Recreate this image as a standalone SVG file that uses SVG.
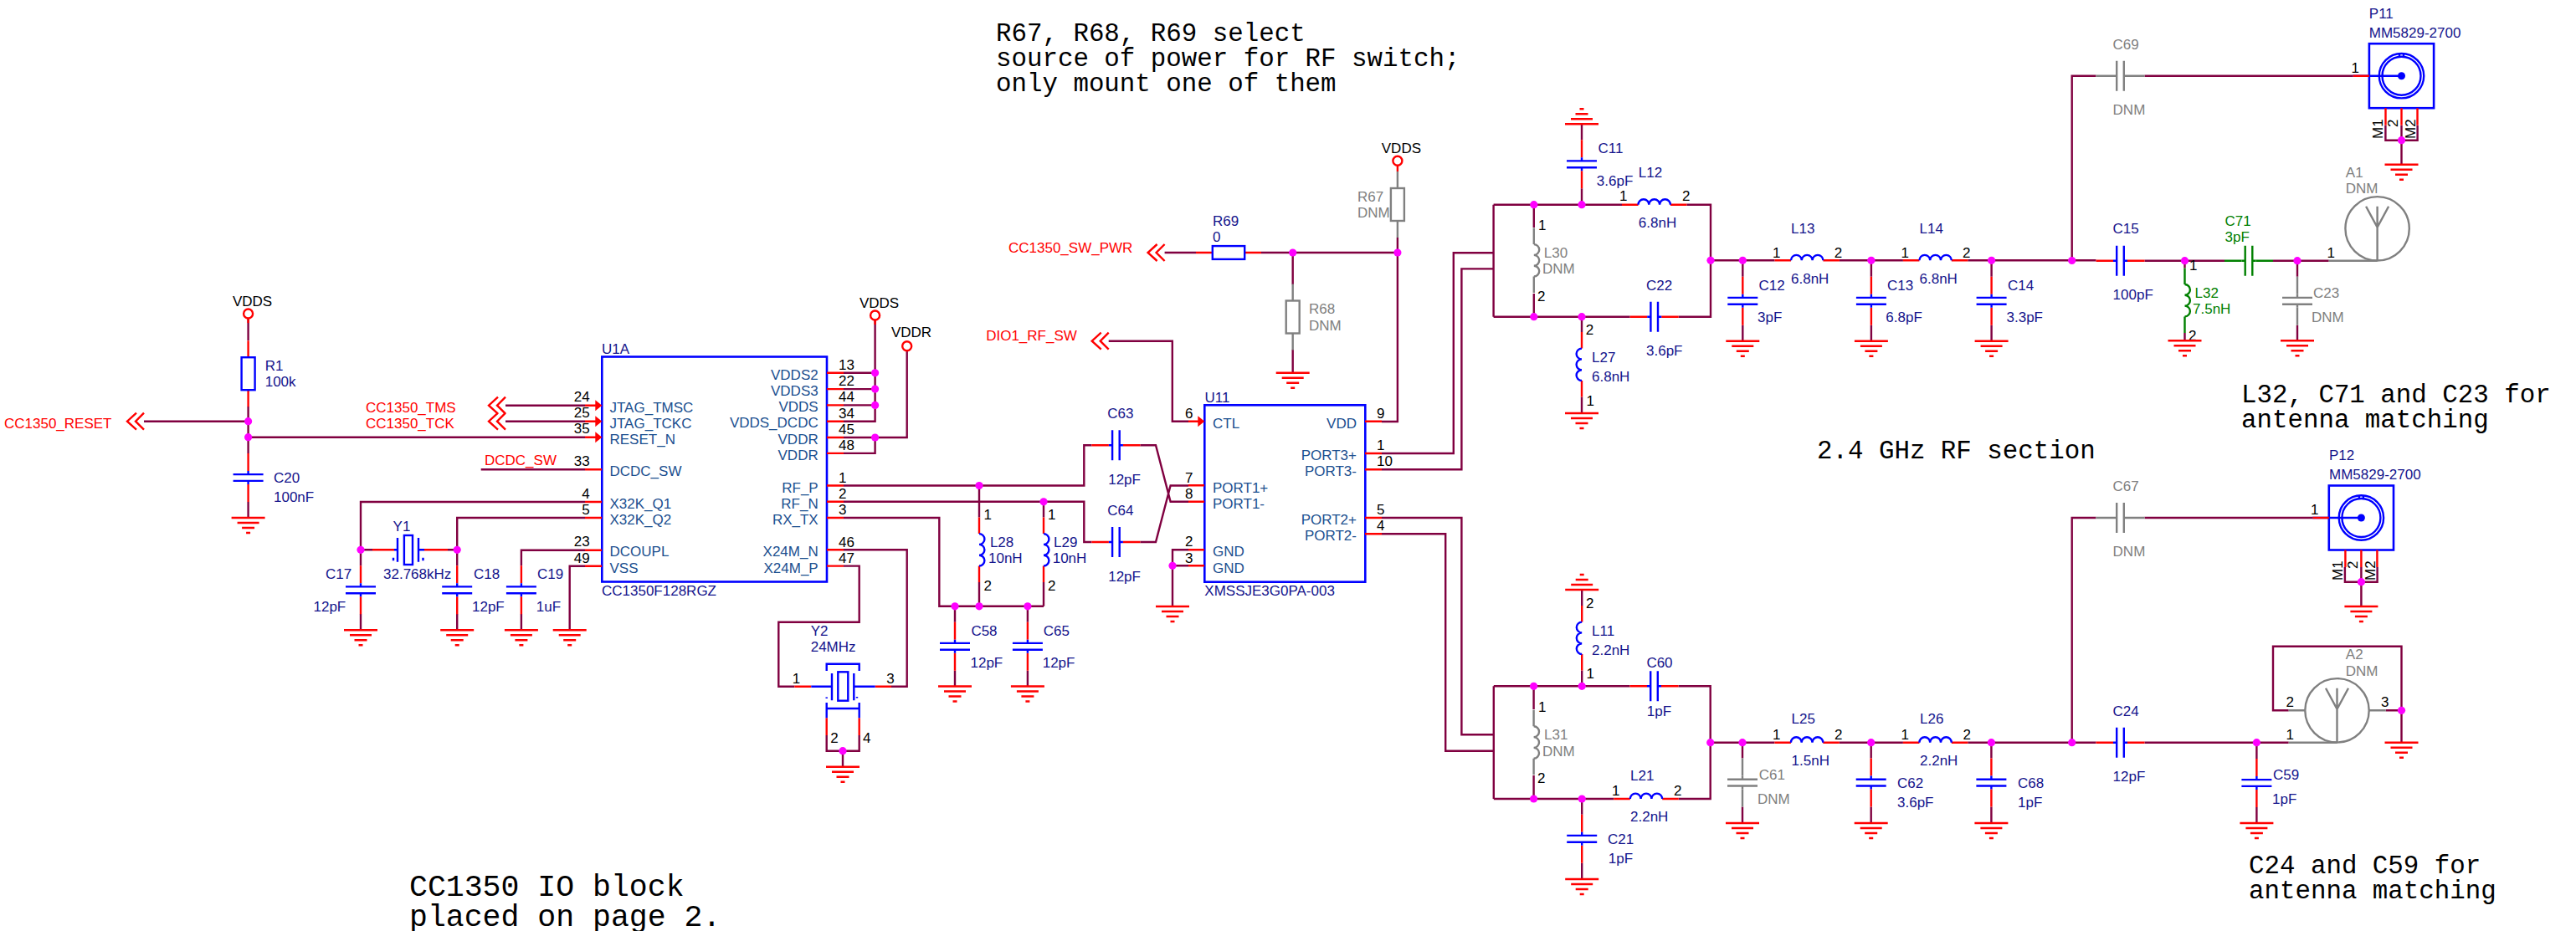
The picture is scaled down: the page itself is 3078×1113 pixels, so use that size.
<svg xmlns="http://www.w3.org/2000/svg" width="3078" height="1113" viewBox="0 0 3078 1113">
<style>
text{font-family:"Liberation Sans",Arial,sans-serif;font-size:17px;fill:#14148c}
.n{fill:#000}.pn{fill:#1b4f8f}.r{fill:#f00}.g{fill:#808080}.gr{fill:#008000}
.e{text-anchor:end}.c{text-anchor:middle}
.m{font-family:"Liberation Mono","Courier New",monospace;fill:#000;font-size:30.8px}
.m2{font-size:36.5px}
path,rect,circle,ellipse{fill:none}
.w{stroke:#800040;stroke-width:2.4}
.p{stroke:var(--p,#f00);stroke-width:2.4}
.b{stroke:var(--b,#00f);stroke-width:2.4}
.red{stroke:#f00;stroke-width:2.4}
.dnm{--p:#808080;--b:#808080}
.grn{--p:#008000;--b:#008000}
.box{stroke:#00f;stroke-width:2.6;fill:#fff}
.j{fill:#f0f;stroke:none}
.ar{fill:#f00;stroke:none}
.dot{fill:#00f;stroke:none}
</style>
<defs>
<g id="gnd"><path class="red" d="M-20 0H20M-13 6H13M-7.5 12H7.5M-2.5 18H2.5"/></g>
<g id="chev"><path class="red" stroke-width="2.4" d="M-9 -10L-20 0L-9 10M0 -10L-10 0L0 10"/></g>
<polygon id="arr" class="ar" points="-8,-6.5 0,0 -8,6.5"/>
<circle id="jn" class="j" r="4.6"/>
<g id="capV"><path class="p" d="M0 -29V-8M0 8V29"/><path class="b" d="M-18 -3.9H18M-18 3.9H18M0 -8V-3.9M0 3.9V8"/></g>
<g id="capH"><path class="p" d="M-29 0H-8.5M8.5 0H29"/><path class="b" d="M-4.3 -18V18M4.3 -18V18M-8.5 0H-4.3M4.3 0H8.5"/></g>
<g id="indH"><path class="p" d="M-38.7 0H-19.2M19.2 0H38.7"/><path class="b" d="M-19.2 0a6.4 6.4 0 0 1 12.8 0a6.4 6.4 0 0 1 12.8 0a6.4 6.4 0 0 1 12.8 0"/></g>
<g id="indVR"><path class="p" d="M0 -38.7V-19.2M0 19.2V38.7"/><path class="b" d="M0 -19.2a6.4 6.4 0 0 1 0 12.8a6.4 6.4 0 0 1 0 12.8a6.4 6.4 0 0 1 0 12.8"/></g>
<g id="indVL"><path class="p" d="M0 -38.7V-19.2M0 19.2V38.7"/><path class="b" d="M0 -19.2a6.4 6.4 0 0 0 0 12.8a6.4 6.4 0 0 0 0 12.8a6.4 6.4 0 0 0 0 12.8"/></g>
<g id="resV"><path class="p" d="M0 -39.5V-19.5M0 19.5V39.5"/><rect class="b" x="-8" y="-19.5" width="16" height="39"/></g>
<g id="resH"><path class="p" d="M-39 0H-19.2M19.2 0H39"/><rect class="b" x="-19.2" y="-7.9" width="38.4" height="15.8"/></g>
<g id="sma"><rect class="box" x="-38.6" y="-38.5" width="77.2" height="77"/><circle class="b" r="26.7"/><circle class="b" r="23"/><path class="b" d="M-58 0H0M-2.5 -26.7V-23M2.5 -26.7V-23"/><circle class="dot" r="4.5"/><path class="p" d="M-58 0H-38.6M-19 38.5V59M0 38.5V59M19 38.5V59"/></g>
<g id="ant"><circle class="b" r="38.2"/><path class="b" d="M0 38.2V-26.5M-13.5 -26.5L0 -1.5L13.5 -26.5"/></g>
</defs>
<rect width="3078" height="1113" fill="#fff"/>
<g id="connectors">
<path class="w" d="M296.6 381V407M296.6 486V542M296.6 600V619M172 503.7H296.6M296.6 522.7H699M604 484.7H699M604 503.7H699M574.7 561.3H699M699 600H431V676.3M431 734V753.3M431 657.3H445M699 619H546.2V676.3M546.2 734V753.3M535 657.3H546.2M699 657.7H622.9V676.3M622.9 734V753.3M699 676.7H680.7V753.3"/>
<path class="w" d="M1008 445.8H1045.6M1008 465.1H1045.6M1008 484.4H1045.6M1045.6 383V503.7H1008M1008 523H1083.7V419.3M1008 541.9H1045.6V523M1008 580.5H1295.3V532.2H1304.4M1362.4 532.2H1381L1398.6 599.8H1420M1008 599.8H1295.3V648H1304.4M1362.4 648H1381L1398.6 580.5H1420M1170 580.5V618.6M1170 696V724.8M1247 599.8V618.6M1247 696V724.8M1008 619H1122.3V724.8H1247M1141 724.8V743.8M1141 801.8V820.5M1227.9 724.8V743.8M1227.9 801.8V820.5M1008 657.3H1083.7V820.7H1065M1008 676.6H1026.7V743.7H930.3V820.7H949.3M987.7 879V897.7H1026.7V879M1007 897.7V916.7"/>
<path class="w" d="M1420 657.3H1401V725M1420 676.3H1401M1324.7 407.7H1400.8V503.7H1420M1391.6 302H1429M1507 302H1669.9M1544.7 302V340M1544.7 418V445.7M1669.9 284V504H1651"/>
<path class="w" d="M1651 542H1736.8V302.3H1784.6M1651 561.3H1746.4V321.4H1784.6M1784.6 244.7V378.7M1784.6 244.7H1938M2015.4 244.7H2044V378.7H2005.7M1947.7 378.7H1784.6M1832.8 244.7V272M1832.8 351V378.7M1890 148.3V167.3M1890 225.3V244.7M1890 378.7V397M1890 474.5V494M2044 311.3H2120.5M2197.9 311.3H2273.9M2351.3 311.3H2504.5M2562.5 311.7H2658M2716 311.7H2782.7M2082.3 311.3V330.8M2082.3 388.8V407.7M2235.9 311.3V330.8M2235.9 388.8V407.7M2379.6 311.3V330.8M2379.6 388.8V407.7M2745 311.7V330.8M2745 388.8V407.3M2610.5 311.7V320.5M2610.5 398V407.3M2475.7 311.3V90.7H2504.5M2562.5 90.7H2811.6M2850.4 150V167.7H2888.6V150M2869.5 150V196.7"/>
<path class="w" d="M1651 619H1746.4V878.3H1784.8M1651 638.3H1727.2V897.7H1784.8M1784.8 820.3V955M1784.8 820.3H1947.5M2005.5 820.3H2043.7V955H2005.7M1928.3 955H1784.8M1832.6 820.3V848M1832.6 927V955M1890.2 705V724M1890.2 801.5V820.3M1890.2 955V973.8M1890.2 1031.8V1051M2043.7 887.7H2120.4M2197.8 887.7H2273.9M2351.3 887.7H2504.5M2562.5 887.7H2734.7M2082 887.7V906.6M2082 964.6V984M2235.7 887.7V906.6M2235.7 964.6V984M2379.4 887.7V906.6M2379.4 964.6V984M2696.4 887.7V907M2696.4 965V984M2475.7 887.7V619H2504.5M2562.5 619H2763.6M2801.9 678V695.7H2840.6V678M2821.4 678V725M2734.7 849.3H2716V772.7H2869.5V887.7M2850.8 849.3H2869.5"/>
</g>
<g id="U1A">
<rect class="box" x="719.3" y="426.5" width="268.7" height="269"/>
<path class="red" d="M699 484.7H712M699 503.7H712M699 522.7H712M699 561.3H719M699 600H719M699 619H719M699 657.7H719M699 676.7H719M988 445.8H1008M988 465.1H1008M988 484.4H1008M988 503.7H1008M988 523H1008M988 541.9H1008M988 580.5H1008M988 599.8H1008M988 619H1008M988 657.3H1008M988 676.6H1008"/>
<use href="#arr" x="719.3" y="484.7"/><use href="#arr" x="719.3" y="503.7"/><use href="#arr" x="719.3" y="522.7"/>
<text x="719" y="423">U1A</text><text x="719" y="711.7">CC1350F128RGZ</text>
<text class="pn" x="728.5" y="493">JTAG_TMSC</text><text class="pn" x="728.5" y="512">JTAG_TCKC</text><text class="pn" x="728.5" y="531">RESET_N</text><text class="pn" x="728.5" y="568.8">DCDC_SW</text><text class="pn" x="728.5" y="608.4">X32K_Q1</text><text class="pn" x="728.5" y="627">X32K_Q2</text><text class="pn" x="728.5" y="665">DCOUPL</text><text class="pn" x="728.5" y="684.8">VSS</text>
<text class="pn e" x="977.7" y="454">VDDS2</text><text class="pn e" x="977.7" y="473">VDDS3</text><text class="pn e" x="977.7" y="492">VDDS</text><text class="pn e" x="977.7" y="511">VDDS_DCDC</text><text class="pn e" x="977.7" y="531">VDDR</text><text class="pn e" x="977.7" y="550">VDDR</text><text class="pn e" x="977.7" y="588.7">RF_P</text><text class="pn e" x="977.7" y="607.7">RF_N</text><text class="pn e" x="977.7" y="627.3">RX_TX</text><text class="pn e" x="977.7" y="664.5">X24M_N</text><text class="pn e" x="977.7" y="684.8">X24M_P</text>
<text class="n e" x="704.6" y="480">24</text><text class="n e" x="704.6" y="499">25</text><text class="n e" x="704.6" y="518">35</text><text class="n e" x="704.6" y="557.3">33</text><text class="n e" x="704.6" y="595.7">4</text><text class="n e" x="704.6" y="615">5</text><text class="n e" x="704.6" y="653.3">23</text><text class="n e" x="704.6" y="673.3">49</text>
<text class="n" x="1002" y="442">13</text><text class="n" x="1002" y="461">22</text><text class="n" x="1002" y="480">44</text><text class="n" x="1002" y="500">34</text><text class="n" x="1002" y="519">45</text><text class="n" x="1002" y="538">48</text><text class="n" x="1002" y="577.4">1</text><text class="n" x="1002" y="595.6">2</text><text class="n" x="1002" y="615">3</text><text class="n" x="1002" y="653.8">46</text><text class="n" x="1002" y="673">47</text>
</g>
<g id="U11">
<rect class="box" x="1439.3" y="484.3" width="192" height="211.4"/>
<path class="red" d="M1420 503.7H1432M1420 580.3H1439M1420 599.7H1439M1420 657.3H1439M1420 676.3H1439M1631 503.7H1651M1631 542H1651M1631 561.3H1651M1631 619H1651M1631 638.3H1651"/>
<use href="#arr" x="1439.3" y="503.7"/>
<text x="1439.5" y="480.7">U11</text><text x="1439.3" y="712.3">XMSSJE3G0PA-003</text>
<text class="pn" x="1449" y="512">CTL</text><text class="pn" x="1449" y="588.7">PORT1+</text><text class="pn" x="1449" y="607.7">PORT1-</text><text class="pn" x="1449" y="665">GND</text><text class="pn" x="1449" y="685">GND</text>
<text class="pn e" x="1621" y="512">VDD</text><text class="pn e" x="1621" y="550">PORT3+</text><text class="pn e" x="1621" y="569">PORT3-</text><text class="pn e" x="1621" y="627">PORT2+</text><text class="pn e" x="1621" y="645.7">PORT2-</text>
<text class="n" x="1416" y="500">6</text><text class="n" x="1416" y="576.7">7</text><text class="n" x="1416" y="596">8</text><text class="n" x="1416" y="653">2</text><text class="n" x="1416" y="672.7">3</text>
<text class="n" x="1645" y="500">9</text><text class="n" x="1645" y="538">1</text><text class="n" x="1645" y="556.7">10</text><text class="n" x="1645" y="615">5</text><text class="n" x="1645" y="634">4</text>
</g>
<g id="VDDS1"><circle class="red" cx="296.6" cy="375" r="5.5"/><path class="red" d="M296.6 380.5V386"/><text class="n c" x="301.6" y="366">VDDS</text></g>
<g id="VDDS2"><circle class="red" cx="1045.6" cy="377" r="5.5"/><path class="red" d="M1045.6 382.5V388"/><text class="n c" x="1050.6" y="368">VDDS</text></g>
<g id="VDDR"><circle class="red" cx="1083.7" cy="413.8" r="5.5"/><text class="n c" x="1089" y="403.4">VDDR</text></g>
<g id="VDDS3"><circle class="red" cx="1669.9" cy="192.3" r="5.5"/><path class="red" d="M1669.9 197.8V205"/><text class="n c" x="1674.4" y="182.7">VDDS</text></g>
<g id="CC1350_RESET"><use href="#chev" x="172" y="503.7"/><text class="r" x="5" y="512">CC1350_RESET</text></g>
<g id="CC1350_TMS"><use href="#chev" x="604" y="484.7"/><text class="r" x="437" y="493">CC1350_TMS</text></g>
<g id="CC1350_TCK"><use href="#chev" x="604" y="503.7"/><text class="r" x="437" y="512">CC1350_TCK</text></g>
<g id="DCDC_SW"><text class="r" x="579" y="556">DCDC_SW</text></g>
<g id="CC1350_SW_PWR"><use href="#chev" x="1391.6" y="302"/><text class="r" x="1205" y="301.7">CC1350_SW_PWR</text></g>
<g id="DIO1_RF_SW"><use href="#chev" x="1324.7" y="407.7"/><text class="r e" x="1286.8" y="406.7">DIO1_RF_SW</text></g>
<g id="R1"><use href="#resV" x="296.6" y="446.7"/><text x="316.7" y="443">R1</text><text x="316.7" y="462">100k</text></g>
<g id="R69"><use href="#resH" x="1468" y="302"/><text x="1449" y="270">R69</text><text x="1449" y="289">0</text></g>
<g id="R67" class="dnm"><use href="#resV" x="1669.9" y="244.5"/><text class="g" x="1622" y="241">R67</text><text class="g" x="1622" y="260">DNM</text></g>
<g id="R68" class="dnm"><use href="#resV" x="1544.7" y="379"/><text class="g" x="1564" y="375.3">R68</text><text class="g" x="1564" y="395">DNM</text></g>
<g id="C20"><use href="#capV" x="296.6" y="571"/><text x="327" y="577">C20</text><text x="327" y="600">100nF</text></g>
<g id="C17"><use href="#capV" x="431" y="705.3"/><text x="389" y="691.7">C17</text><text x="374.5" y="731">12pF</text></g>
<g id="C18"><use href="#capV" x="546.2" y="705.3"/><text x="566" y="691.7">C18</text><text x="564" y="731">12pF</text></g>
<g id="C19"><use href="#capV" x="622.9" y="705.3"/><text x="642" y="691.7">C19</text><text x="640.8" y="731">1uF</text></g>
<g id="Y1">
<path class="red" d="M445 657.3H471M507 657.3H535"/>
<path class="b" d="M471 657.3H475M500 657.3H507M475 643V671.7M500 643V671.7"/>
<rect class="b" x="482.9" y="640" width="10.1" height="35"/>
<circle class="dot" cx="470" cy="799" r="0"/><circle class="dot" cx="470" cy="799" r="0"/>
<rect class="dot" x="468.5" y="798" width="0" height="0"/>
<path class="b" d="M469 798h0"/>
<path class="b" d="M470 668v1M505.5 668v1" stroke-linecap="square"/>
<text x="469.6" y="635">Y1</text><text x="458" y="691.7">32.768kHz</text>
</g>
<g id="Y2">
<path class="red" d="M949.3 820.7H969.3M1045.7 820.7H1065M987.7 858.3V879M1026.7 858.3V879"/>
<path class="b" d="M969.3 820.7H994M1020.3 820.7H1045.7M994 805V837.3M1020.3 805V837.3M987.7 802V793.7H1026.7V802M987.7 840V858.3M1026.7 840V858.3M987.7 847H1026.7"/>
<rect class="b" x="1001.3" y="803.3" width="12" height="34.4"/>
<path class="b" d="M987.7 833.5v1.5M1024 833v1.5"/>
<text x="968.7" y="760">Y2</text><text x="968.7" y="779">24MHz</text>
<text class="n" x="946.7" y="817.3">1</text><text class="n" x="1059.3" y="817.3">3</text><text class="n" x="992.3" y="887.7">2</text><text class="n" x="1031" y="887.7">4</text>
</g>
<g id="L28"><use href="#indVR" x="1170" y="657.3"/><text class="n" x="1175.5" y="621">1</text><text class="n" x="1175.5" y="705.8">2</text><text x="1182.9" y="654">L28</text><text x="1181" y="673">10nH</text></g>
<g id="L29"><use href="#indVR" x="1247" y="657.3"/><text class="n" x="1252" y="621">1</text><text class="n" x="1252" y="705.8">2</text><text x="1259" y="654">L29</text><text x="1257.7" y="673">10nH</text></g>
<g id="C58"><use href="#capV" x="1141" y="772.8"/><text x="1160.4" y="760">C58</text><text x="1159.5" y="798">12pF</text></g>
<g id="C65"><use href="#capV" x="1227.9" y="772.8"/><text x="1246.7" y="760">C65</text><text x="1245.7" y="798">12pF</text></g>
<g id="C63"><use href="#capH" x="1333.4" y="532.2"/><text x="1323.3" y="500">C63</text><text x="1324.2" y="579">12pF</text></g>
<g id="C64"><use href="#capH" x="1333.4" y="648"/><text x="1323.3" y="616">C64</text><text x="1324.2" y="694.5">12pF</text></g>
<g id="C11"><use href="#capV" x="1890" y="196.3"/><text x="1909.5" y="183.3">C11</text><text x="1907.8" y="222">3.6pF</text></g>
<g id="L12"><use href="#indH" x="1976.7" y="244.7"/><text class="n" x="1935" y="240">1</text><text class="n" x="2010" y="240">2</text><text x="1957.8" y="211.7">L12</text><text x="1957.8" y="272.3">6.8nH</text></g>
<g id="L30" class="dnm"><use href="#indVR" x="1832.8" y="311.3"/><text class="n" x="1838" y="275">1</text><text class="n" x="1837" y="360">2</text><text class="g" x="1844.8" y="308.3">L30</text><text class="g" x="1843" y="327.3">DNM</text></g>
<g id="C22"><use href="#capH" x="1976.7" y="378.7"/><text x="1967" y="347.3">C22</text><text x="1967" y="425.3">3.6pF</text></g>
<g id="L27"><use href="#indVL" x="1890" y="435.8"/><text class="n" x="1894.8" y="400">2</text><text class="n" x="1895.5" y="485">1</text><text x="1902" y="432.7">L27</text><text x="1902" y="456">6.8nH</text></g>
<g id="L13"><use href="#indH" x="2159.2" y="311.3"/><text class="n" x="2118" y="308.3">1</text><text class="n" x="2191.7" y="308.3">2</text><text x="2140" y="279">L13</text><text x="2140" y="339">6.8nH</text></g>
<g id="L14"><use href="#indH" x="2312.6" y="311.3"/><text class="n" x="2271.6" y="308.3">1</text><text class="n" x="2345" y="308.3">2</text><text x="2293.5" y="279">L14</text><text x="2293.5" y="339">6.8nH</text></g>
<g id="C12"><use href="#capV" x="2082.3" y="359.8"/><text x="2101.5" y="346.7">C12</text><text x="2100" y="385">3pF</text></g>
<g id="C13"><use href="#capV" x="2235.9" y="359.8"/><text x="2255" y="346.7">C13</text><text x="2253.3" y="385">6.8pF</text></g>
<g id="C14"><use href="#capV" x="2379.6" y="359.8"/><text x="2399" y="346.7">C14</text><text x="2397.5" y="385">3.3pF</text></g>
<g id="C69" class="dnm"><use href="#capH" x="2533.5" y="90.7"/><text class="g" x="2524.6" y="59">C69</text><text class="g" x="2524.6" y="137">DNM</text></g>
<g id="C15"><use href="#capH" x="2533.5" y="311.7"/><text x="2524.6" y="279.3">C15</text><text x="2524.6" y="358.3">100pF</text></g>
<g id="C71" class="grn"><use href="#capH" x="2687" y="311.7"/><text class="gr" x="2658.6" y="270">C71</text><text class="gr" x="2658.6" y="289">3pF</text></g>
<g id="L32" class="grn"><use href="#indVR" x="2610.5" y="359.2"/><text class="n" x="2616" y="323">1</text><text class="n" x="2615" y="407.3">2</text><text class="gr" x="2622.5" y="356">L32</text><text class="gr" x="2620" y="375">7.5nH</text></g>
<g id="C23" class="dnm"><use href="#capV" x="2745" y="359.8"/><text class="g" x="2764" y="356">C23</text><text class="g" x="2762" y="385">DNM</text></g>
<g id="A1" class="dnm"><use href="#ant" x="2840.6" y="273.3"/><path class="p" d="M2782.7 311.7H2840.6"/><text class="n" x="2780.5" y="308">1</text><text class="g" x="2802.8" y="212">A1</text><text class="g" x="2802.8" y="231">DNM</text></g>
<g id="P11"><use href="#sma" x="2869.5" y="90.7"/><text x="2830.8" y="21.7">P11</text><text x="2830.8" y="45">MM5829-2700</text><text class="n" x="2809.4" y="86.7">1</text>
<text class="n" transform="translate(2847 166) rotate(-90)">M1</text><text class="n" transform="translate(2865 152) rotate(-90)">2</text><text class="n" transform="translate(2886 166) rotate(-90)">M2</text></g>
<g id="L11"><use href="#indVL" x="1890.2" y="762.8"/><text class="n" x="1895" y="726.7">2</text><text class="n" x="1895.5" y="811">1</text><text x="1902" y="760">L11</text><text x="1902" y="782.7">2.2nH</text></g>
<g id="C60"><use href="#capH" x="1976.5" y="820.3"/><text x="1967.4" y="798.3">C60</text><text x="1967.8" y="856">1pF</text></g>
<g id="L31" class="dnm"><use href="#indVR" x="1832.6" y="887.5"/><text class="n" x="1838" y="850.7">1</text><text class="n" x="1837" y="936">2</text><text class="g" x="1845" y="884">L31</text><text class="g" x="1843" y="904">DNM</text></g>
<g id="L21"><use href="#indH" x="1967" y="955"/><text class="n" x="1926" y="951">1</text><text class="n" x="2000" y="951">2</text><text x="1948" y="932.7">L21</text><text x="1948" y="982">2.2nH</text></g>
<g id="C21"><use href="#capV" x="1890.2" y="1002.8"/><text x="1921" y="1009.3">C21</text><text x="1921.8" y="1032.3">1pF</text></g>
<g id="L25"><use href="#indH" x="2159.1" y="887.7"/><text class="n" x="2118" y="884">1</text><text class="n" x="2192" y="884">2</text><text x="2140.6" y="865.3">L25</text><text x="2140.6" y="915.3">1.5nH</text></g>
<g id="L26"><use href="#indH" x="2312.6" y="887.7"/><text class="n" x="2271.4" y="884">1</text><text class="n" x="2345.5" y="884">2</text><text x="2294" y="865.3">L26</text><text x="2294" y="915.3">2.2nH</text></g>
<g id="C61" class="dnm"><use href="#capV" x="2082" y="935.6"/><text class="g" x="2101.8" y="932.3">C61</text><text class="g" x="2100" y="961">DNM</text></g>
<g id="C62"><use href="#capV" x="2235.7" y="935.6"/><text x="2267" y="942.3">C62</text><text x="2267" y="965.3">3.6pF</text></g>
<g id="C68"><use href="#capV" x="2379.4" y="935.6"/><text x="2411" y="942.3">C68</text><text x="2411" y="965">1pF</text></g>
<g id="C67" class="dnm"><use href="#capH" x="2533.5" y="619"/><text class="g" x="2524.6" y="587.3">C67</text><text class="g" x="2524.6" y="665">DNM</text></g>
<g id="C24"><use href="#capH" x="2533.5" y="887.7"/><text x="2524.6" y="856">C24</text><text x="2524.6" y="934">12pF</text></g>
<g id="C59"><use href="#capV" x="2696.4" y="936"/><text x="2716" y="932.3">C59</text><text x="2715" y="961">1pF</text></g>
<g id="A2" class="dnm"><use href="#ant" x="2792.5" y="849.3"/><path class="p" d="M2734.7 887.7H2792.5M2734.7 849.3H2754.3M2830.7 849.3H2850.8"/><text class="n" x="2731.5" y="845">2</text><text class="n" x="2845" y="845">3</text><text class="n" x="2731.5" y="884">1</text><text class="g" x="2802.8" y="788.3">A2</text><text class="g" x="2802.8" y="808">DNM</text></g>
<g id="P12"><use href="#sma" x="2821.4" y="619"/><text x="2783" y="550">P12</text><text x="2783" y="572.7">MM5829-2700</text><text class="n" x="2761" y="614.7">1</text>
<text class="n" transform="translate(2799 694) rotate(-90)">M1</text><text class="n" transform="translate(2817 680) rotate(-90)">2</text><text class="n" transform="translate(2838 694) rotate(-90)">M2</text></g>
<g id="grounds">
<use href="#gnd" x="296.6" y="619"/><use href="#gnd" x="431" y="753.3"/><use href="#gnd" x="546.2" y="753.3"/><use href="#gnd" x="622.9" y="753.3"/><use href="#gnd" x="680.7" y="753.3"/><use href="#gnd" x="1141" y="820.5"/><use href="#gnd" x="1227.9" y="820.5"/><use href="#gnd" x="1007" y="916.7"/><use href="#gnd" x="1401" y="725"/><use href="#gnd" x="1544.7" y="445.7"/><use href="#gnd" transform="translate(1890 148.3) scale(1 -1)"/><use href="#gnd" x="1890" y="494"/><use href="#gnd" x="2082.3" y="407.7"/><use href="#gnd" x="2235.9" y="407.7"/><use href="#gnd" x="2379.6" y="407.7"/><use href="#gnd" x="2610.5" y="407.3"/><use href="#gnd" x="2745" y="407.3"/><use href="#gnd" x="2869.5" y="196.7"/><use href="#gnd" transform="translate(1890.2 705) scale(1 -1)"/><use href="#gnd" x="1890.2" y="1051"/><use href="#gnd" x="2082" y="984"/><use href="#gnd" x="2235.7" y="984"/><use href="#gnd" x="2379.4" y="984"/><use href="#gnd" x="2696.4" y="984"/><use href="#gnd" x="2821.4" y="725"/><use href="#gnd" x="2869.5" y="887.7"/>
</g>
<g id="junctions">
<use href="#jn" x="296.6" y="503.7"/><use href="#jn" x="296.6" y="522.7"/><use href="#jn" x="431" y="657.3"/><use href="#jn" x="546.2" y="657.3"/><use href="#jn" x="1045.6" y="445.8"/><use href="#jn" x="1045.6" y="465.1"/><use href="#jn" x="1045.6" y="484.4"/><use href="#jn" x="1045.6" y="523"/><use href="#jn" x="1170" y="580.5"/><use href="#jn" x="1247" y="599.8"/><use href="#jn" x="1141" y="724.8"/><use href="#jn" x="1170" y="724.8"/><use href="#jn" x="1227.9" y="724.8"/><use href="#jn" x="1007" y="897.7"/><use href="#jn" x="1401" y="676.3"/><use href="#jn" x="1544.7" y="302"/><use href="#jn" x="1669.9" y="302"/><use href="#jn" x="1832.8" y="244.7"/><use href="#jn" x="1890" y="244.7"/><use href="#jn" x="1832.8" y="378.7"/><use href="#jn" x="1890" y="378.7"/><use href="#jn" x="2044" y="311.3"/><use href="#jn" x="2082.3" y="311.3"/><use href="#jn" x="2235.9" y="311.3"/><use href="#jn" x="2379.6" y="311.3"/><use href="#jn" x="2475.7" y="311.5"/><use href="#jn" x="2610.5" y="311.7"/><use href="#jn" x="2745" y="311.7"/><use href="#jn" x="2869.5" y="167.7"/><use href="#jn" x="1832.6" y="820.3"/><use href="#jn" x="1890.2" y="820.3"/><use href="#jn" x="1832.6" y="955"/><use href="#jn" x="1890.2" y="955"/><use href="#jn" x="2043.7" y="887.7"/><use href="#jn" x="2082" y="887.7"/><use href="#jn" x="2235.7" y="887.7"/><use href="#jn" x="2379.4" y="887.7"/><use href="#jn" x="2475.7" y="887.7"/><use href="#jn" x="2696.4" y="887.7"/><use href="#jn" x="2821.4" y="695.7"/><use href="#jn" x="2869.5" y="849.3"/>
</g>
<g id="notes">
<text class="m" x="1190" y="49">R67, R68, R69 select</text><text class="m" x="1190" y="79">source of power for RF switch;</text><text class="m" x="1190" y="109">only mount one of them</text>
<text class="m" x="2171" y="548.3">2.4 GHz RF section</text>
<text class="m" x="2678" y="481">L32, C71 and C23 for</text><text class="m" x="2678" y="511">antenna matching</text>
<text class="m" x="2687" y="1044">C24 and C59 for</text><text class="m" x="2687" y="1074">antenna matching</text>
<text class="m m2" x="489" y="1070.7">CC1350 IO block</text><text class="m m2" x="489" y="1107.3">placed on page 2.</text>
</g>
</svg>
